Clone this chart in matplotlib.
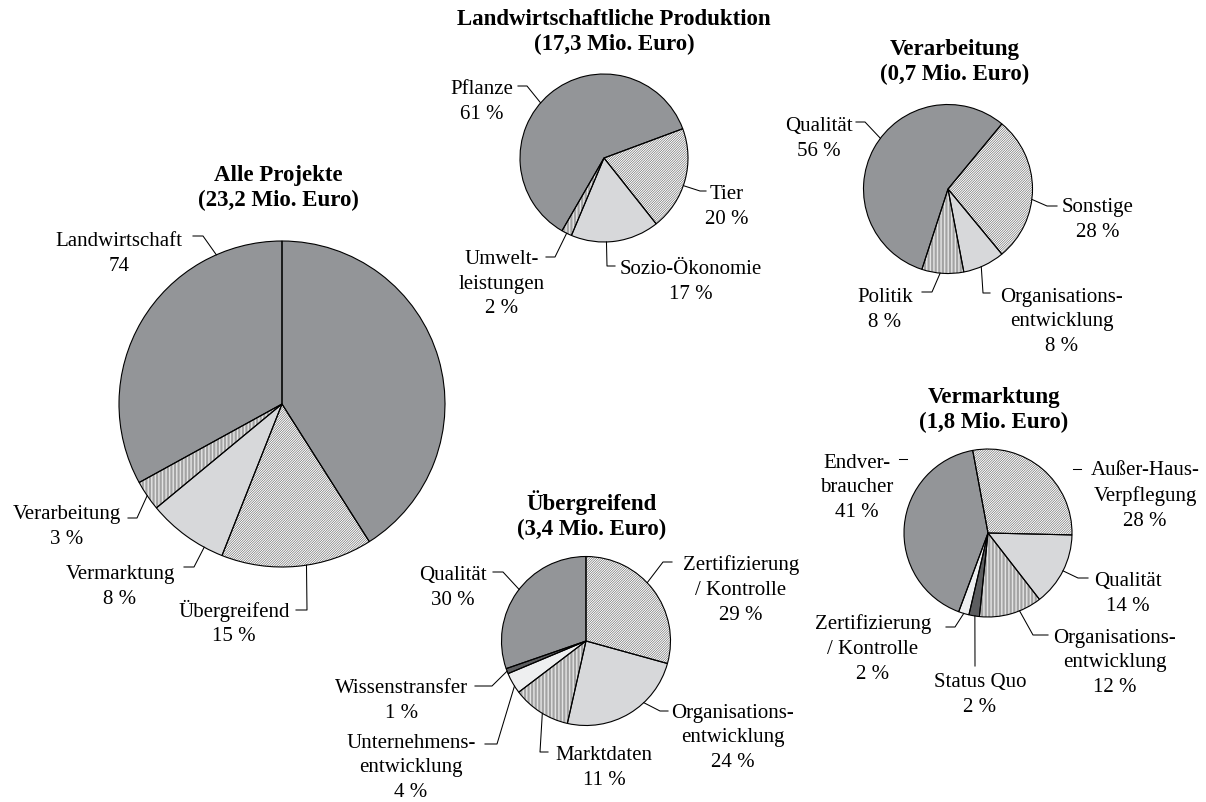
import numpy as np
import matplotlib
matplotlib.use('Agg')
import matplotlib.pyplot as plt
from matplotlib.patches import Wedge

plt.rcParams['font.family'] = ['Liberation Serif', 'DejaVu Serif']
plt.rcParams['hatch.linewidth'] = 0.4

W, H = 1206, 803

# ---- data (shares in %) ----
# Alle Projekte: the Landwirtschaft share (74) is drawn as two wedges, with a seam at 12 o'clock
alle_title = 'Alle Projekte\n(23,2 Mio. Euro)'
alle_labels = ['Landwirtschaft', 'Übergreifend', 'Vermarktung', 'Verarbeitung', 'Landwirtschaft']
alle_values = [41, 15, 8, 3, 33]
alle_texts = ['Landwirtschaft\n74', 'Übergreifend\n15 %', 'Vermarktung\n8 %', 'Verarbeitung\n3 %']

lp_title = 'Landwirtschaftliche Produktion\n(17,3 Mio. Euro)'
lp_labels = ['Pflanze', 'Tier', 'Sozio-Ökonomie', 'Umwelt-\nleistungen']
lp_values = [61, 20, 17, 2]

verarb_title = 'Verarbeitung\n(0,7 Mio. Euro)'
verarb_labels = ['Qualität', 'Sonstige', 'Organisations-\nentwicklung', 'Politik']
verarb_values = [56, 28, 8, 8]

uebergr_title = 'Übergreifend\n(3,4 Mio. Euro)'
uebergr_labels = ['Zertifizierung\n/ Kontrolle', 'Organisations-\nentwicklung', 'Marktdaten',
                  'Unternehmens-\nentwicklung', 'Wissenstransfer', 'Qualität']
uebergr_values = [29, 24, 11, 4, 1, 30]

verm_title = 'Vermarktung\n(1,8 Mio. Euro)'
verm_labels = ['Außer-Haus-\nVerpflegung', 'Qualität', 'Organisations-\nentwicklung', 'Status Quo',
               'Zertifizierung\n/ Kontrolle', 'Endver-\nbraucher']
verm_values = [28, 14, 12, 2, 2, 41]

# ---- styles ----
FILLS = {
    'dark': ('#939598', None),
    'light': ('#d7d8da', None),
    'pale': ('#eeeff0', None),
    'darker': ('#5c5d5f', None),
    'diag': ('white', '/' * 14),
    'vert': ('white', '|' * 12),
}
HATCH_GREY = '#5a5a5a'
LABEL_SIZE = 15
TITLE_SIZE = 16.5


def Y(y):
    # layout is noted in pixel rows from the top
    return H - y


fig = plt.figure(figsize=(W / 100, H / 100), dpi=100)
ax = fig.add_axes([0, 0, 1, 1])


def draw_pie(values, styles, center, radius, startangle, title, title_xy, labels):
    cx, cy = center
    wedges, _ = ax.pie(values, colors=[FILLS[s][0] for s in styles], startangle=startangle,
                       counterclock=False, center=(cx, Y(cy)), radius=radius,
                       wedgeprops=dict(linewidth=0))
    for w, s in zip(wedges, styles):
        hatch = FILLS[s][1]
        if hatch:
            w.set_hatch(hatch)
            w.set_edgecolor(HATCH_GREY)
            w.set_linewidth(0)
        ax.add_patch(Wedge(w.center, w.r, w.theta1, w.theta2, fill=False,
                           ec='black', lw=0.8, zorder=3))
    ax.text(title_xy[0], Y(title_xy[1] + 2), title, ha='center', va='center',
            fontsize=TITLE_SIZE, fontweight='bold', linespacing=1.21)
    for txt, xy, p0, p1, idx, f in labels:
        ax.text(xy[0], Y(xy[1] + 3), txt, ha='center', va='center', fontsize=LABEL_SIZE,
                linespacing=1.42, multialignment='center')
        xs, ys = [p0[0], p1[0]], [Y(p0[1]), Y(p1[1])]
        if idx is not None:
            w = wedges[idx]
            a = np.radians(w.theta1 + f * (w.theta2 - w.theta1))
            xs.append(w.center[0] + w.r * np.cos(a))
            ys.append(w.center[1] + w.r * np.sin(a))
        ax.plot(xs, ys, color='black', lw=0.75, zorder=4)


# Alle Projekte
draw_pie(alle_values, ['dark', 'diag', 'light', 'vert', 'dark'], (282, 405), 163, 90,
         alle_title, (278, 186),
         [(alle_texts[0], (119, 251), (193, 237), (203, 237), 4, 0.2),
          (alle_texts[1], (234, 620), (296, 611), (307, 611), 1, 0.56),
          (alle_texts[2], (120, 584), (184, 568), (194, 568), 2, 0.76),
          (alle_texts[3], (67, 524), (128, 519), (137, 519), 3, 0.5)])

# Landwirtschaftliche Produktion
lp_texts = [f'{l}\n{v} %' for l, v in zip(lp_labels, lp_values)]
draw_pie(lp_values, ['dark', 'diag', 'light', 'vert'], (604, 159), 84, 240,
         lp_title, (614, 30),
         [(lp_texts[0], (482, 99), (518, 87), (527, 87), 0, 0.54),
          (lp_texts[1], (727, 204), (706, 192), (700, 192), 1, 0.45),
          (lp_texts[2], (691, 279), (615, 267), (607, 267), 2, 0.40),
          (lp_texts[3], (502, 281), (546, 258), (555, 258), 3, 0.5)])

# Verarbeitung
verarb_texts = [f'{l}\n{v} %' for l, v in zip(verarb_labels, verarb_values)]
draw_pie(verarb_values, ['dark', 'diag', 'light', 'vert'], (948, 190), 84.5, 252,
         verarb_title, (955, 60),
         [(verarb_texts[0], (819, 136), (856, 123), (865, 123), 0, 0.46),
          (verarb_texts[1], (1098, 217), (1057, 207), (1047, 207), 1, 0.43),
          (verarb_texts[2], (1062, 319), (990, 294), (983, 294), 2, 0.43),
          (verarb_texts[3], (885, 307), (922, 293), (932, 293), 3, 0.44)])

# Übergreifend
uebergr_texts = [f'{l}\n{v} %' for l, v in zip(uebergr_labels, uebergr_values)]
draw_pie(uebergr_values, ['diag', 'light', 'vert', 'pale', 'darker', 'dark'], (586, 642), 84.5, 90,
         uebergr_title, (592, 513),
         [(uebergr_texts[0], (741, 587), (672, 563), (663, 563), 0, 0.56),
          (uebergr_texts[1], (733, 735), (668, 712), (660, 712), 1, 0.64),
          (uebergr_texts[2], (604, 765), (548, 753), (540, 753), 2, 0.54),
          (uebergr_texts[3], (411, 765), (485, 745), (497, 745), 3, 0.65),
          (uebergr_texts[4], (402, 698), (475, 687), (492, 687), 4, 0.5),
          (uebergr_texts[5], (453, 585), (493, 573), (503, 573), 5, 0.48)])

# Vermarktung
verm_texts = [f'{l}\n{v} %' for l, v in zip(verm_labels, verm_values)]
draw_pie(verm_values, ['diag', 'light', 'vert', 'darker', 'pale', 'dark'], (988, 534), 84, 100.5,
         verm_title, (994, 408),
         [(verm_texts[0], (1145, 493), (1081, 470), (1073, 470), None, 0),
          (verm_texts[1], (1128, 591), (1088, 579), (1078, 579), 1, 0.5),
          (verm_texts[2], (1115, 660), (1048, 636), (1033, 636), 2, 0.64),
          (verm_texts[3], (980, 692), (975, 667), (975, 667), 3, 0.57),
          (verm_texts[4], (873, 646), (946, 628), (955, 628), 4, 0.5),
          (verm_texts[5], (857, 485), (899, 460), (907, 460), None, 0)])

ax.set_xlim(0, W)
ax.set_ylim(0, H)
ax.set_aspect('equal')
ax.axis('off')

fig.savefig('out.png', dpi=100, facecolor='white')
